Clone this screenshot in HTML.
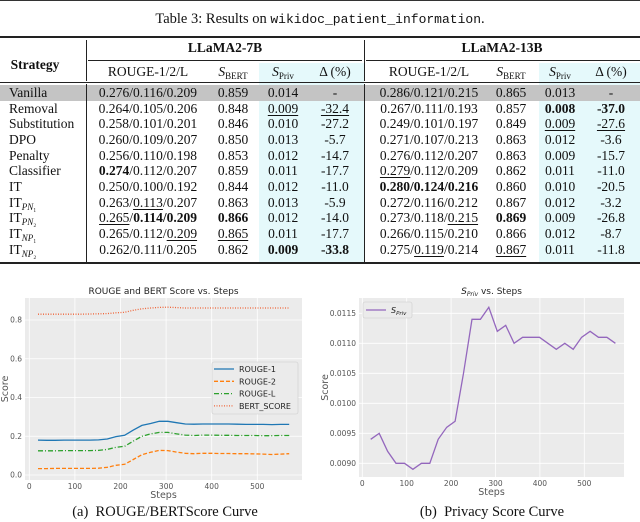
<!DOCTYPE html>
<html><head><meta charset="utf-8"><style>
body{margin:0;width:640px;height:522px;background:#fff;position:relative;overflow:hidden;font-family:"Liberation Serif",serif;}
.a{position:absolute;}
.c{position:absolute;white-space:nowrap;transform:translateX(-50%);font-size:13.5px;line-height:16px;color:#111;}
.l{position:absolute;white-space:nowrap;font-size:13.5px;line-height:16px;color:#111;}
u{text-decoration:underline;text-underline-offset:2px;}
sub{font-size:9px;vertical-align:-3px;}
svg text{font-family:"DejaVu Sans","Liberation Sans",sans-serif;}
</style></head><body>
<div class="a" style="left:0;top:0;width:640px;height:1px;background:#333"></div>
<div class="c" style="left:320px;top:11px;font-size:14.5px">Table 3: Results on <span style="font-family:'Liberation Mono',monospace;font-size:13px">wikidoc_patient_information</span>.</div>
<div>
<div class="a" style="left:259px;top:63px;width:105px;height:199px;background:#e5f9fb"></div>
<div class="a" style="left:539px;top:63px;width:101px;height:199px;background:#e5f9fb"></div>
<div class="a" style="left:0;top:85px;width:640px;height:16px;background:#c4c4c4"></div>
<div class="a" style="left:0;top:36px;width:640px;height:2px;background:#222"></div>
<div class="a" style="left:88px;top:60px;width:274px;height:1px;background:#222"></div>
<div class="a" style="left:366px;top:60px;width:274px;height:1px;background:#222"></div>
<div class="a" style="left:0;top:82px;width:640px;height:1px;background:#222"></div>
<div class="a" style="left:0;top:262px;width:640px;height:2px;background:#222"></div>
<div class="a" style="left:86px;top:40px;width:1px;height:41px;background:#222"></div>
<div class="a" style="left:86px;top:84px;width:1px;height:178px;background:#222"></div>
<div class="a" style="left:364px;top:40px;width:1px;height:41px;background:#222"></div>
<div class="a" style="left:364px;top:84px;width:1px;height:178px;background:#222"></div>
<div class="c" style="left:35px;top:57px;font-weight:bold">Strategy</div>
<div class="c" style="left:225px;top:40px;font-weight:bold">LLaMA2-7B</div>
<div class="c" style="left:502px;top:40px;font-weight:bold">LLaMA2-13B</div>
<div class="c" style="left:148px;top:64px">ROUGE-1/2/L</div>
<div class="c" style="left:233px;top:64px"><i>S</i><sub>BERT</sub></div>
<div class="c" style="left:283px;top:64px"><i>S</i><sub>Priv</sub></div>
<div class="c" style="left:335px;top:64px">Δ (%)</div>
<div class="c" style="left:429px;top:64px">ROUGE-1/2/L</div>
<div class="c" style="left:511px;top:64px"><i>S</i><sub>BERT</sub></div>
<div class="c" style="left:560px;top:64px"><i>S</i><sub>Priv</sub></div>
<div class="c" style="left:611px;top:64px">Δ (%)</div>
</div>
<div id="rows"></div>
<svg id="ch" class="a" style="left:0;top:0" width="640" height="522"></svg>
<div class="c" style="left:165px;top:504px;font-size:14.5px">(a)&nbsp; ROUGE/BERTScore Curve</div>
<div class="c" style="left:492px;top:504px;font-size:14.5px">(b)&nbsp; Privacy Score Curve</div>
<script>
const tableRows=[
["Vanilla","0.276/0.116/0.209","0.859","0.014","-","0.286/0.121/0.215","0.865","0.013","-"],
["Removal","0.264/0.105/0.206","0.848","<u>0.009</u>","<u>-32.4</u>","0.267/0.111/0.193","0.857","<b>0.008</b>","<b>-37.0</b>"],
["Substitution","0.258/0.101/0.201","0.846","0.010","-27.2","0.249/0.101/0.197","0.849","<u>0.009</u>","<u>-27.6</u>"],
["DPO","0.260/0.109/0.207","0.850","0.013","-5.7","0.271/0.107/0.213","0.863","0.012","-3.6"],
["Penalty","0.256/0.110/0.198","0.853","0.012","-14.7","0.276/0.112/0.207","0.863","0.009","-15.7"],
["Classifier","<b>0.274</b>/0.112/0.207","0.859","0.011","-17.7","<u>0.279</u>/0.112/0.209","0.862","0.011","-11.0"],
["IT","0.250/0.100/0.192","0.844","0.012","-11.0","<b>0.280/0.124/0.216</b>","0.860","0.010","-20.5"],
["IT<sub><i>PN</i>₁</sub>","0.263/<u>0.113</u>/0.207","0.863","0.013","-5.9","0.272/0.116/0.212","0.867","0.012","-3.2"],
["IT<sub><i>PN</i>₂</sub>","<u>0.265</u>/<b>0.114/0.209</b>","<b>0.866</b>","0.012","-14.0","0.273/0.118/<u>0.215</u>","<b>0.869</b>","0.009","-26.8"],
["IT<sub><i>NP</i>₁</sub>","0.265/0.112/<u>0.209</u>","<u>0.865</u>","0.011","-17.7","0.266/0.115/0.210","0.866","0.012","-8.7"],
["IT<sub><i>NP</i>₂</sub>","0.262/0.111/0.205","0.862","<b>0.009</b>","<b>-33.8</b>","0.275/<u>0.119</u>/0.214","<u>0.867</u>","0.011","-11.8"]];
const colX=[148,233,283,335,429,511,560,611];
const rowsEl=document.getElementById('rows');
tableRows.forEach((r,i)=>{
  const y=85+i*15.65;
  const s=document.createElement('div');s.className='l';s.style.left='9px';s.style.top=y+'px';s.innerHTML=r[0];
  
  
  rowsEl.appendChild(s);
  for(let j=1;j<9;j++){const d=document.createElement('div');d.className='c';d.style.left=colX[j-1]+'px';d.style.top=y+'px';d.innerHTML=r[j];
  
  
  rowsEl.appendChild(d);}
});

const steps=[19,38,57,76,95,114,133,152,171,190,209,228,247,266,285,304,323,342,361,380,399,418,437,456,475,494,513,532,551,570];
const rouge1=[0.180,0.179,0.179,0.180,0.180,0.180,0.180,0.181,0.186,0.198,0.205,0.232,0.256,0.266,0.277,0.277,0.270,0.263,0.262,0.263,0.263,0.263,0.263,0.262,0.261,0.261,0.261,0.260,0.261,0.261];
const rouge2=[0.033,0.033,0.034,0.034,0.034,0.034,0.034,0.035,0.040,0.050,0.055,0.080,0.105,0.117,0.127,0.126,0.118,0.112,0.110,0.112,0.112,0.111,0.111,0.110,0.110,0.109,0.108,0.106,0.108,0.110];
const rougeL=[0.125,0.125,0.125,0.126,0.126,0.126,0.126,0.127,0.132,0.143,0.148,0.175,0.200,0.212,0.220,0.220,0.212,0.206,0.204,0.206,0.206,0.205,0.205,0.204,0.204,0.204,0.203,0.203,0.204,0.204];
const bertScore=[0.830,0.830,0.830,0.830,0.830,0.830,0.831,0.832,0.833,0.837,0.840,0.850,0.858,0.862,0.865,0.866,0.864,0.862,0.862,0.862,0.862,0.862,0.862,0.862,0.862,0.862,0.862,0.862,0.862,0.862];
const sPriv=[0.0094,0.0095,0.0092,0.0090,0.0090,0.0089,0.0090,0.0090,0.0094,0.0096,0.0097,0.0105,0.0114,0.0114,0.0116,0.0112,0.0113,0.0110,0.0111,0.0111,0.0111,0.0110,0.0109,0.0110,0.0109,0.0111,0.0112,0.0111,0.0111,0.0110];
const xTicks=[0,100,200,300,400,500];
const yTicksA=[0.0,0.2,0.4,0.6,0.8];
const yTicksB=[0.0090,0.0095,0.0100,0.0105,0.0110,0.0115];

const NS='http://www.w3.org/2000/svg';
const svg=document.getElementById('ch');
function mk(t,a,txt){const e=document.createElementNS(NS,t);for(const k in a)e.setAttribute(k,a[k]);if(txt!==undefined)e.textContent=txt;svg.appendChild(e);return e;}

function chart(o){
  const bg=mk('rect',{x:o.L,y:o.T,width:o.R-o.L,height:o.B-o.T,fill:'#ebebeb'});
  
  
  xTicks.forEach(t=>{const x=o.xs(t);mk('line',{x1:x,x2:x,y1:o.T,y2:o.B,stroke:'#fff','stroke-width':0.8});
    const tl=mk('text',{x:x,y:o.B+9,'font-size':7.5,fill:'#555','text-anchor':'middle'},t);
    
    });
  o.yt.forEach(t=>{const y=o.ys(t);mk('line',{x1:o.L,x2:o.R,y1:y,y2:y,stroke:'#fff','stroke-width':0.8});
    const tl=mk('text',{x:o.L-3,y:y+2.5,'font-size':7.5,fill:'#555','text-anchor':'end'},o.fmt(t));
    
    });
  const tt=mk('text',{x:(o.L+o.R)/2,y:o.T-4,'font-size':9,fill:'#222','text-anchor':'middle'});
  tt.innerHTML=o.title;
  
  
  const xl=mk('text',{x:(o.L+o.R)/2,y:o.B+18,'font-size':9.5,fill:'#555','text-anchor':'middle'},'Steps');
  
  
  const yl=mk('text',{x:0,y:0,'font-size':9.5,fill:'#555','text-anchor':'middle',transform:`translate(${o.yx},${(o.T+o.B)/2}) rotate(-90)`},'Score');
  
  
}
function line(vals,xs,ys,attrs,name){
  const d=vals.map((v,i)=>(i?'L':'M')+xs(steps[i]).toFixed(1)+' '+ys(v).toFixed(1)).join(' ');
  const p=mk('path',Object.assign({d:d,fill:'none'},attrs));
  
  
}
// Chart A
const xa=s=>29.3+s*0.456, ya=v=>475-v*193.75;
chart({L:25,R:302,T:298,B:480,xs:xa,ys:ya,yt:yTicksA,fmt:t=>t.toFixed(1),title:'ROUGE and BERT Score vs. Steps',name:'rouge-chart',yx:8});
line(rouge1,xa,ya,{stroke:'#1f77b4','stroke-width':1.3},'rouge-1-line');
line(rouge2,xa,ya,{stroke:'#ff7f0e','stroke-width':1.3,'stroke-dasharray':'4 2'},'rouge-2-line');
line(rougeL,xa,ya,{stroke:'#2ca02c','stroke-width':1.3,'stroke-dasharray':'5 2 1 2'},'rouge-l-line');
line(bertScore,xa,ya,{stroke:'#f0663a','stroke-width':1.3,'stroke-dasharray':'1 1.5'},'bert-score-line');
mk('rect',{x:212,y:362,width:86,height:52,fill:'#ebebeb',stroke:'#ccc','stroke-width':0.6,rx:2});
[['ROUGE-1','#1f77b4',''],['ROUGE-2','#ff7f0e','4 2'],['ROUGE-L','#2ca02c','5 2 1 2'],['BERT_SCORE','#f0663a','1 1.5']].forEach((e,i)=>{
  const y=369+i*12.3;
  mk('line',{x1:214,x2:234,y1:y,y2:y,stroke:e[1],'stroke-width':1.3,'stroke-dasharray':e[2]});
  const t=mk('text',{x:239,y:y+3,'font-size':8,fill:'#222'},e[0]);
  
  
});
// Chart B
const xb=s=>362.3+s*0.444, yb=v=>463.3-(v-0.009)*60000;
chart({L:359,R:624,T:298,B:477,xs:xb,ys:yb,yt:yTicksB,fmt:t=>t.toFixed(4),title:'<tspan font-style="italic">S</tspan><tspan font-style="italic" font-size="6" dy="2">Priv</tspan><tspan dy="-2"> vs. Steps</tspan>',name:'privacy-chart',yx:328});
line(sPriv,xb,yb,{stroke:'#9467bd','stroke-width':1.3},'spriv-line');
mk('rect',{x:363,y:302,width:49,height:16,fill:'#ebebeb',stroke:'#ccc','stroke-width':0.6,rx:2});
mk('line',{x1:366,x2:386,y1:310,y2:310,stroke:'#9467bd','stroke-width':1.3});
const lt=mk('text',{x:391,y:313,'font-size':8,fill:'#222'});
lt.innerHTML='<tspan font-style="italic">S</tspan><tspan font-style="italic" font-size="5.5" dy="2">Priv</tspan>';


</script>
</body></html>
